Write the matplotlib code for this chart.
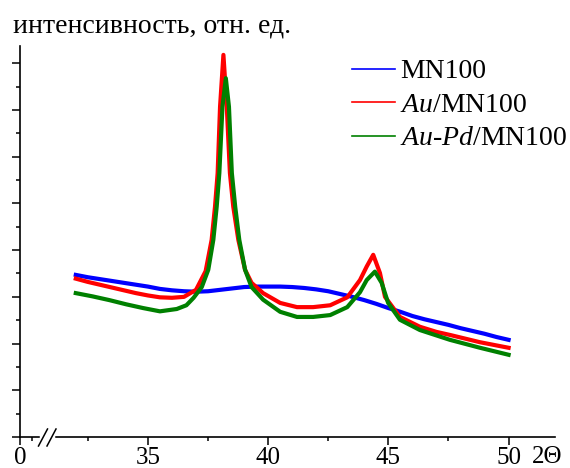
import matplotlib
matplotlib.use("Agg")
import matplotlib.pyplot as plt
from matplotlib.lines import Line2D

plt.rcParams["font.family"] = ["Liberation Serif", "DejaVu Serif"]
plt.rcParams["mathtext.fontset"] = "custom"
plt.rcParams["mathtext.rm"] = "Liberation Serif"
plt.rcParams["mathtext.it"] = "Liberation Serif:italic"

# values (2theta, intensity in tick units)
mn_x = [32.0, 32.5, 33.0, 33.5, 34.0, 34.5, 35.0, 35.5, 36.0, 36.5, 37.0, 37.5,
        38.0, 38.5, 39.0, 39.5, 40.0, 40.5, 41.0, 41.5, 42.0, 42.5, 43.0, 43.5,
        44.0, 44.5, 45.0, 45.5, 46.0, 46.5, 47.0, 47.5, 48.0, 48.5, 49.0, 49.5, 50.0]
mn_y = [3.47, 3.42, 3.38, 3.34, 3.30, 3.26, 3.22, 3.17, 3.14, 3.12, 3.11, 3.12,
        3.15, 3.18, 3.21, 3.22, 3.22, 3.22, 3.21, 3.19, 3.16, 3.12, 3.06, 3.00,
        2.93, 2.85, 2.76, 2.68, 2.59, 2.52, 2.46, 2.40, 2.33, 2.27, 2.21, 2.14, 2.08]

au_x = [32.0, 32.5, 33.0, 33.5, 34.0, 34.5, 35.0, 35.5, 36.0, 36.5, 37.0, 37.4,
        37.65, 37.79, 37.90, 38.0, 38.14, 38.28, 38.41, 38.55, 38.76, 39.04, 39.31,
        39.79, 40.5, 41.2, 41.87, 42.58, 43.29, 43.82, 44.1, 44.37, 44.65, 44.86,
        45.48, 46.31, 47.0, 47.6, 48.8, 50.0]
au_y = [3.39, 3.32, 3.26, 3.20, 3.14, 3.08, 3.03, 2.99, 2.98, 3.00, 3.15, 3.55,
        4.22, 4.93, 5.65, 7.07, 8.18, 7.07, 5.65, 4.93, 4.22, 3.58, 3.30,
        3.08, 2.87, 2.78, 2.78, 2.82, 2.99, 3.36, 3.65, 3.90, 3.51, 3.00,
        2.57, 2.36, 2.25, 2.18, 2.03, 1.91]

aupd_x = [32.0, 32.7, 33.4, 34.1, 34.8, 35.5, 36.2, 36.6, 36.9, 37.24, 37.51, 37.72,
          37.86, 37.97, 38.10, 38.24, 38.37, 38.49, 38.63, 38.80, 39.04, 39.31, 39.79,
          40.5, 41.2, 41.87, 42.58, 43.29, 43.82, 44.1, 44.44, 44.72, 44.99, 45.48,
          46.31, 47.56, 48.81, 50.0]
aupd_y = [3.08, 3.01, 2.93, 2.84, 2.76, 2.69, 2.74, 2.82, 2.98, 3.21, 3.58, 4.22,
          4.93, 5.65, 7.07, 7.68, 7.07, 5.65, 4.93, 4.22, 3.58, 3.21, 2.94,
          2.68, 2.57, 2.57, 2.61, 2.78, 3.10, 3.36, 3.54, 3.30, 2.87, 2.51,
          2.29, 2.08, 1.91, 1.76]

x_ticks = [29.68, 35, 40, 45, 50]
x_tick_labels = ["0", "35", "40", "45", "50"]
x_minor = [30.17, 32.5, 37.5, 42.5, 47.5]
labels = ["MN100", r"$\mathit{Au}$/MN100", r"$\mathit{Au}$-$\mathit{Pd}$/MN100"]
colors = ["#0000ff", "#ff0000", "#008000"]

W, H = 570, 468
fig = plt.figure(figsize=(W / 100, H / 100), dpi=100)
ax = fig.add_axes([20 / W, 1 - 437 / H, 535 / W, 391 / H])

for xs, ys, c in [(mn_x, mn_y, colors[0]), (au_x, au_y, colors[1]), (aupd_x, aupd_y, colors[2])]:
    ax.plot(xs, ys, color=c, lw=3.0, solid_joinstyle="round")

ax.set_xlim(29.68, 51.93)
ax.set_ylim(0, 8.37)
for s in ["top", "right"]:
    ax.spines[s].set_visible(False)
for s in ["left", "bottom"]:
    ax.spines[s].set_linewidth(1.2)

ax.set_xticks(x_ticks)
ax.set_xticklabels(x_tick_labels)
ax.set_xticks(x_minor, minor=True)
ax.set_yticks(range(0, 9))
ax.set_yticks([i + 0.5 for i in range(0, 8)], minor=True)
ax.set_yticklabels([])
ax.tick_params(axis="both", which="major", direction="out", length=6, width=1.1,
               labelsize=18, pad=1.2)
ax.tick_params(axis="both", which="minor", direction="out", length=3, width=1.1)

# axis break marks
fig.add_artist(Line2D([41 / W, 53 / W], [1 - 437 / H, 1 - 437 / H], color="white", lw=2.5))
for x0 in (38.5, 47.0):
    fig.add_artist(Line2D([x0 / W, (x0 + 9) / W], [1 - 446 / H, 1 - 429 / H], color="black", lw=1.1))

fig.text(12.7 / W, 1 - 32 / H, "интенсивность, отн. ед.", fontsize=20, va="baseline")
fig.text(531.7 / W, 1 - 463 / H, "2Θ", fontsize=18, va="baseline")

handles = [Line2D([], [], color=c, lw=1.2) for c in colors]
ax.legend(handles, labels, loc="upper left", bbox_to_anchor=(351.7 / W, 1 - 59 / H),
          bbox_transform=fig.transFigure, frameon=False, fontsize=20, borderpad=0,
          borderaxespad=0, handlelength=1.55, handletextpad=0.18, labelspacing=0.29)

fig.savefig("out.png", dpi=100)
